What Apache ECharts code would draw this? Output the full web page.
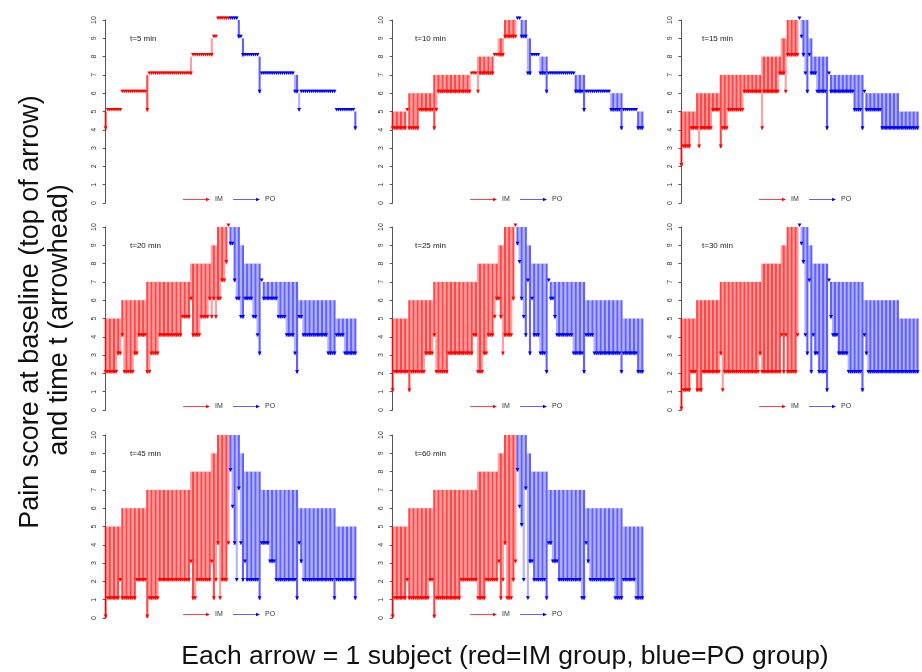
<!DOCTYPE html>
<html>
<head>
<meta charset="utf-8">
<script src="https://cdn.jsdelivr.net/npm/echarts@6/dist/echarts.min.js"></script>
<style>
  html, body { margin: 0; padding: 0; background: #fff; }
  #chart { width: 922px; height: 672px; }
</style>
</head>
<body>
<div id="chart"></div>
<script>
// minutes after dosing, one panel each
const times = [5, 10, 15, 20, 25, 30, 45, 60];

// baseline score runs [score, number of subjects], in plotting order
const imBase = [[5, 8], [6, 12], [7, 21], [8, 10], [9, 3], [10, 6]];
const poBase = [[10, 5], [9, 2], [8, 8], [7, 18], [6, 18], [5, 10]];

// score at time t, runs [score, number of subjects], same subject order
const imEnd5 = [[4,1],[5,7],[6,12],[5,1],[7,21],[8,10],[9,2],[10,6]];
const poEnd5 = [[10,4],[9,2],[8,8],[6,1],[7,16],[6,2],[5,1],[6,17],[5,9],[4,1]];
const imEnd10 = [[4,7],[5,1],[4,5],[5,7],[4,1],[5,1],[6,16],[7,3],[6,1],[7,7],[8,5],[9,6]];
const poEnd10 = [[10,2],[9,3],[7,2],[8,4],[7,3],[6,1],[7,13],[6,4],[5,1],[6,12],[5,5],[4,1],[5,7],[4,3]];
const imEnd15 = [[2,1],[3,4],[4,4],[3,1],[4,6],[5,4],[3,1],[4,3],[5,8],[6,9],[4,1],[6,8],[7,3],[6,1],[8,6]];
const poEnd15 = [[10,1],[9,1],[8,1],[7,1],[6,1],[8,1],[7,3],[6,5],[4,1],[7,1],[6,12],[5,4],[4,1],[6,1],[5,8],[4,19]];
const imEnd20 = [[2,6],[3,2],[4,1],[2,5],[3,2],[4,4],[2,2],[3,4],[4,11],[5,4],[6,1],[4,4],[5,4],[6,1],[5,1],[6,1],[5,1],[6,2],[7,2],[8,1],[10,1]];
const poEnd20 = [[9,2],[7,1],[6,2],[5,2],[6,4],[5,2],[4,1],[3,1],[7,1],[6,7],[5,4],[4,4],[3,1],[2,1],[5,2],[4,12],[3,4],[4,4],[3,6]];
const imEnd25 = [[1,1],[2,7],[1,1],[2,7],[3,4],[4,1],[2,6],[3,12],[4,2],[2,3],[3,2],[4,3],[5,1],[6,2],[5,1],[3,1],[4,4],[6,1],[10,1]];
const poEnd25 = [[9,1],[8,1],[6,1],[5,1],[4,1],[7,1],[3,1],[6,1],[4,3],[3,3],[2,1],[7,1],[6,2],[5,1],[4,8],[3,5],[2,1],[4,4],[3,13],[2,1],[3,7],[2,3]];
const imEnd30 = [[0,1],[1,4],[2,3],[1,3],[2,9],[3,1],[1,1],[2,18],[3,1],[2,10],[4,1],[2,1],[4,1],[2,5],[4,1]];
const poEnd30 = [[10,1],[9,1],[8,1],[4,1],[3,1],[7,1],[2,1],[4,1],[3,2],[2,4],[1,1],[7,1],[5,1],[4,3],[3,5],[2,7],[1,1],[4,1],[3,1],[2,26]];
const imEnd45 = [[0,1],[1,6],[2,1],[1,7],[2,5],[0,1],[1,5],[2,15],[3,1],[1,2],[2,7],[3,1],[1,1],[2,1],[4,1],[1,1],[2,3],[4,1]];
const poEnd45 = [[8,1],[6,1],[4,1],[2,1],[7,1],[4,1],[2,1],[3,1],[2,6],[1,1],[4,4],[3,3],[2,10],[1,1],[4,1],[3,1],[2,15],[1,1],[2,9],[1,1]];
const imEnd60 = [[0,1],[1,6],[2,1],[1,10],[2,2],[0,1],[1,12],[2,8],[1,4],[2,6],[3,1],[1,1],[2,1],[4,1],[1,3],[2,1],[3,1]];
const poEnd60 = [[8,1],[6,1],[5,1],[2,1],[7,1],[1,1],[3,2],[2,6],[1,1],[4,2],[3,3],[2,11],[1,2],[4,1],[3,1],[2,12],[1,4],[2,6],[1,4]];

const imEnds = [imEnd5, imEnd10, imEnd15, imEnd20, imEnd25, imEnd30, imEnd45, imEnd60];
const poEnds = [poEnd5, poEnd10, poEnd15, poEnd20, poEnd25, poEnd30, poEnd45, poEnd60];

const expand = (runs) => runs.flatMap(([v, n]) => Array(n).fill(v));

// layout of the small multiples
const axisX = [101, 388, 677];
const topY = [20, 227, 435];
const plotW = 259;
const plotH = 183;
const titleX = [130, 415, 702];

const RED = "#ff0000";
const BLUE = "#0000ff";
// alternating shaft strengths give the banded look of the original
const RED_SHAFT = ["rgba(255,0,0,0.72)", "rgba(255,0,0,0.38)"];
const BLUE_SHAFT = ["rgba(0,0,255,0.62)", "rgba(0,0,255,0.3)"];

const chart = echarts.init(document.getElementById("chart"));

const grids = [], xAxes = [], yAxes = [], series = [], graphics = [];

function shaftItem(strokes) {
  return (params, api) => {
    const k = api.value(0);
    const a = api.coord([k, api.value(1)]);
    const b = api.coord([k, api.value(2)]);
    if (Math.abs(a[1] - b[1]) < 0.5) return null;
    return {
      type: "line",
      shape: { x1: a[0], y1: a[1], x2: b[0], y2: b[1] },
      style: { stroke: strokes[Math.floor(k / 1) % 2], lineWidth: 2.1 },
    };
  };
}

function headItem(fill) {
  return (params, api) => {
    const a = api.coord([api.value(0), api.value(1)]);
    const b = api.coord([api.value(0), api.value(2)]);
    const d = b[1] < a[1] - 0.5 ? -1 : 1;
    return {
      type: "polygon",
      shape: { points: [[b[0] - 2, b[1] - 3.5 * d], [b[0] + 2, b[1] - 3.5 * d], [b[0], b[1]]] },
      style: { fill: fill },
    };
  };
}

const imB = expand(imBase);
const poB = expand(poBase);

times.forEach((t, p) => {
  const col = p % 3, row = Math.floor(p / 3);
  const ax = axisX[col], ty = topY[row];
  grids.push({ left: ax, top: ty, width: plotW, height: plotH, containLabel: false });
  xAxes.push({ gridIndex: p, type: "value", min: -2.25, max: 122.25, show: false });
  yAxes.push({
    gridIndex: p, type: "value", min: 0, max: 10, interval: 1,
    axisLine: { show: true, lineStyle: { color: "#555", width: 1 } },
    axisTick: { show: true, length: 3, lineStyle: { color: "#555" } },
    axisLabel: { rotate: 90, fontSize: 7, margin: 3, color: "#333", fontFamily: "Liberation Sans" },
    splitLine: { show: false },
  });

  const imE = expand(imEnds[p]);
  const poE = expand(poEnds[p]);
  const imData = imB.map((b, i) => [i, b, imE[i]]);
  const poData = poB.map((b, i) => [imB.length + i, b, poE[i]]);

  const common = { type: "custom", xAxisIndex: p, yAxisIndex: p, encode: { x: 0, y: [1, 2] }, silent: true, animation: false };
  series.push({ ...common, name: "IM", renderItem: shaftItem(RED_SHAFT), data: imData, z: 2 });
  series.push({ ...common, name: "PO", renderItem: shaftItem(BLUE_SHAFT), data: poData, z: 2 });
  series.push({ ...common, name: "IM", renderItem: headItem(RED), data: imData, z: 3 });
  series.push({ ...common, name: "PO", renderItem: headItem(BLUE), data: poData, z: 3 });

  // panel label
  graphics.push({
    type: "text", x: titleX[col], y: ty + plotH * 0.1,
    style: { text: "t=" + t + " min", fontSize: 8, fill: "#222", fontFamily: "Liberation Sans", textVerticalAlign: "middle" },
  });

  // arrow legend
  const ly = ty + plotH - 3.5;
  const leg = [[82, RED_SHAFT[0], RED, "IM"], [132, BLUE_SHAFT[0], BLUE, "PO"]];
  leg.forEach(([dx, shaft, head, label]) => {
    graphics.push({ type: "line", shape: { x1: ax + dx, y1: ly, x2: ax + dx + 25, y2: ly }, style: { stroke: shaft, lineWidth: 1 } });
    graphics.push({ type: "polygon", shape: { points: [[ax + dx + 23, ly - 1.8], [ax + dx + 23, ly + 1.8], [ax + dx + 27, ly]] }, style: { fill: head } });
    graphics.push({
      type: "text", x: ax + dx + 32, y: ly,
      style: { text: label, fontSize: 7, fill: "#333", fontFamily: "Liberation Sans", textVerticalAlign: "middle" },
    });
  });
});

graphics.push({
  type: "text", x: 31, y: 312, rotation: Math.PI / 2,
  style: { text: "Pain score at baseline (top of arrow)", fontSize: 27, fill: "#111", fontFamily: "Liberation Sans", textAlign: "center", textVerticalAlign: "middle" },
});
graphics.push({
  type: "text", x: 60, y: 320, rotation: Math.PI / 2,
  style: { text: "and time t (arrowhead)", fontSize: 27, fill: "#111", fontFamily: "Liberation Sans", textAlign: "center", textVerticalAlign: "middle" },
});
graphics.push({
  type: "text", x: 505, y: 657,
  style: { text: "Each arrow = 1 subject (red=IM group, blue=PO group)", fontSize: 26.5, fill: "#111", fontFamily: "Liberation Sans", textAlign: "center", textVerticalAlign: "middle" },
});

chart.setOption({
  animation: false,
  grid: grids,
  xAxis: xAxes,
  yAxis: yAxes,
  series: series,
  graphic: graphics,
});
</script>
</body>
</html>
